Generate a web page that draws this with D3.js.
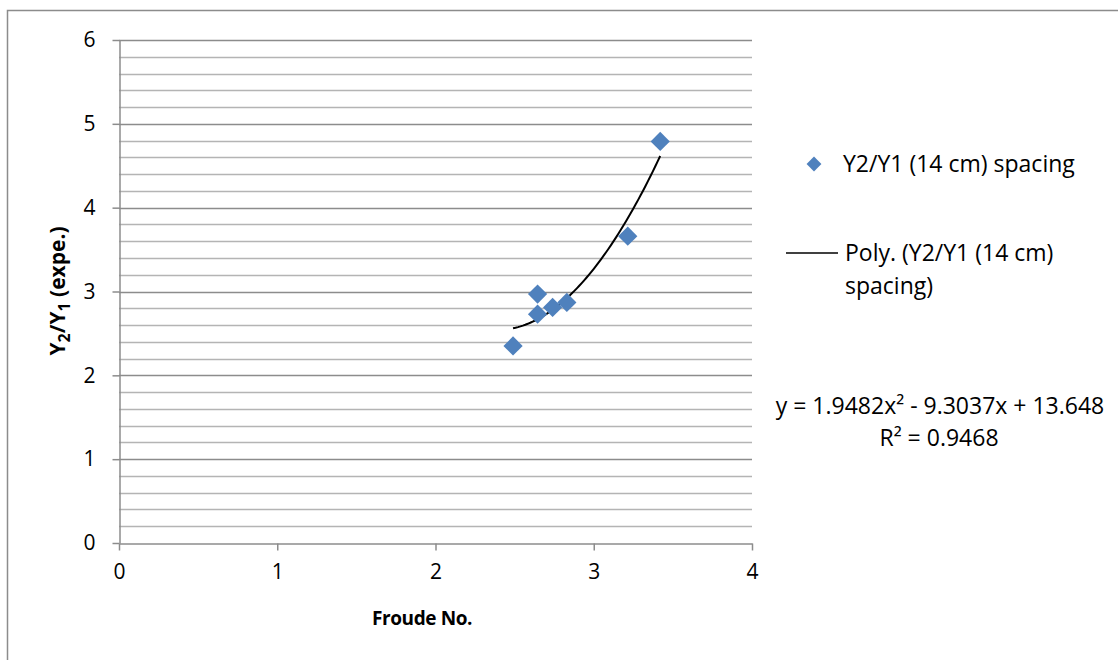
<!DOCTYPE html>
<html>
<head>
<meta charset="utf-8">
<script src="https://cdn.jsdelivr.net/npm/d3@7"></script>
<style>
  body { margin: 0; background: #fff; }
  svg { display: block; font-family: "Open Sans", sans-serif; }
</style>
</head>
<body>
<svg width="1118" height="660"></svg>
<script>
// measured points, Y2/Y1 (14 cm) spacing
const froude = [2.49, 2.645, 2.645, 2.74, 2.83, 3.215, 3.42];
const ratio = [2.35, 2.97, 2.73, 2.81, 2.87, 3.66, 4.79];
// poly trendline coefficients (a x^2 + b x + c) as shown on chart
const polyCoef = [1.9482, -9.3037, 13.648];
const xTicks = [0, 1, 2, 3, 4];
const yTicks = [0, 1, 2, 3, 4, 5, 6];

let svg = d3.select("svg");

let x = d3.scaleLinear().domain([0, 4]).range([119, 752]);
let y = d3.scaleLinear().domain([0, 6]).range([543, 40]);

// outer chart frame (cut off at right / bottom)
svg.append("path")
  .attr("d", "M7.5,660 V10.5 H1118")
  .attr("fill", "none")
  .attr("stroke", "#8c8c8c")
  .attr("stroke-width", 1.5);

// minor gridlines
let minor = d3.range(0, 6.01, 0.2).filter(v => Math.abs(v - Math.round(v)) > 0.01);
svg.append("g").selectAll("line")
  .data(minor)
  .join("line")
  .attr("x1", x(0)).attr("x2", x(4))
  .attr("y1", d => Math.round(y(d)) + 0.5).attr("y2", d => Math.round(y(d)) + 0.5)
  .attr("stroke", "#b4b4b4")
  .attr("stroke-width", 1.3);

// major gridlines
svg.append("g").selectAll("line")
  .data(yTicks.slice(1))
  .join("line")
  .attr("x1", x(0)).attr("x2", x(4))
  .attr("y1", d => Math.round(y(d)) + 0.5).attr("y2", d => Math.round(y(d)) + 0.5)
  .attr("stroke", "#8c8c8c")
  .attr("stroke-width", 1.5);

// axes
let yAxis = svg.append("g")
  .attr("transform", "translate(119.5,0)")
  .call(d3.axisLeft(y).tickValues(yTicks).tickFormat(d3.format("d"))
    .tickSizeInner(7).tickSizeOuter(0).tickPadding(17));
let xAxis = svg.append("g")
  .attr("transform", "translate(0,543.5)")
  .call(d3.axisBottom(x).tickValues(xTicks).tickFormat(d3.format("d"))
    .tickSizeInner(7).tickSizeOuter(0).tickPadding(14));

[xAxis, yAxis].forEach(g => {
  g.select(".domain").attr("stroke", "#8c8c8c").attr("stroke-width", 1.5);
  g.selectAll(".tick line").attr("stroke", "#8c8c8c").attr("stroke-width", 1.5);
  g.selectAll(".tick text")
    .attr("font-family", "Open Sans, sans-serif")
    .attr("font-size", 21)
    .attr("fill", "#000");
});

// trendline
let poly = v => polyCoef[0] * v * v + polyCoef[1] * v + polyCoef[2];
let xmin = d3.min(froude), xmax = d3.max(froude);
let trend = d3.range(0, 61).map(i => xmin + (xmax - xmin) * i / 60);
svg.append("path")
  .datum(trend)
  .attr("fill", "none")
  .attr("stroke", "#000")
  .attr("stroke-width", 2)
  .attr("d", d3.line().x(d => x(d)).y(d => y(poly(d))));

// diamond markers
let diamond = d3.symbol().type(d3.symbolSquare).size(185);
svg.append("g").selectAll("path")
  .data(froude.map((f, i) => [f, ratio[i]]))
  .join("path")
  .attr("d", diamond)
  .attr("transform", d => `translate(${x(d[0])},${y(d[1])}) rotate(45)`)
  .attr("fill", "#4f81bd");

// axis titles
svg.append("text")
  .attr("x", 422).attr("y", 625)
  .attr("text-anchor", "middle")
  .attr("font-size", 19).attr("font-weight", "bold")
  .attr("letter-spacing", -0.4)
  .text("Froude No.");

let yt = svg.append("text")
  .attr("transform", "translate(65,291) rotate(-90)")
  .attr("text-anchor", "middle")
  .attr("font-size", 21).attr("font-weight", "bold");
yt.append("tspan").text("Y");
yt.append("tspan").attr("font-size", 16).attr("dy", 5).text("2");
yt.append("tspan").attr("dy", -5).text("/Y");
yt.append("tspan").attr("font-size", 16).attr("dy", 5).text("1");
yt.append("tspan").attr("dy", -5).text(" (expe.)");

// legend
svg.append("path")
  .attr("d", d3.symbol().type(d3.symbolSquare).size(110))
  .attr("transform", "translate(814,164) rotate(45)")
  .attr("fill", "#4f81bd");
svg.append("text")
  .attr("x", 843).attr("y", 172)
  .attr("font-size", 23)
  .text("Y2/Y1 (14 cm) spacing");

svg.append("line")
  .attr("x1", 786).attr("x2", 838)
  .attr("y1", 253).attr("y2", 253)
  .attr("stroke", "#000").attr("stroke-width", 1.5);
let lt = svg.append("text").attr("font-size", 23);
lt.append("tspan").attr("x", 845).attr("y", 261).text("Poly. (Y2/Y1 (14 cm)");
lt.append("tspan").attr("x", 845).attr("y", 294).text("spacing)");

// equation label
let eq = svg.append("text").attr("font-size", 23).attr("text-anchor", "middle");
eq.append("tspan").attr("x", 940).attr("y", 414)
  .text(`y = ${polyCoef[0]}x² - ${Math.abs(polyCoef[1])}x + ${polyCoef[2]}`);
eq.append("tspan").attr("x", 939).attr("y", 446).text("R² = 0.9468");
</script>
</body>
</html>
